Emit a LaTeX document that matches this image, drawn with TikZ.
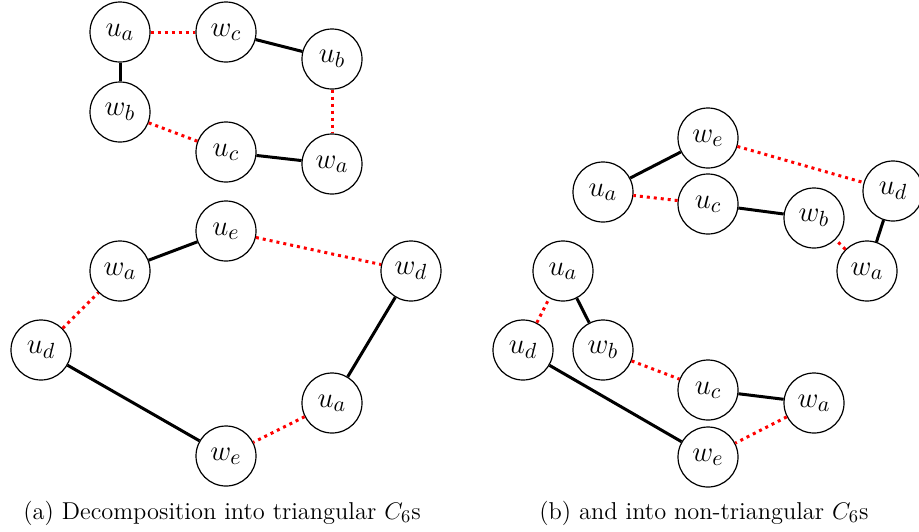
\documentclass[tikz,border=0pt]{standalone}
\begin{document}
\begin{tikzpicture}[x=0.5pt,y=-0.5pt,
  vtx/.style={circle,draw,line width=0.6pt,minimum size=30pt,inner sep=0pt,font=\fontsize{15}{18}\selectfont},
  solidedge/.style={line width=1.5pt},
  rededge/.style={red,line width=1.5pt,dash pattern=on 1.5pt off 2pt},
  captext/.style={anchor=base west,inner sep=0pt,font=\fontsize{12.2}{14}\selectfont}]
\useasboundingbox (0,0) rectangle (919,531);
% (a) top
\node[vtx] (a1ua) at (120,32) {$u_a$};
\node[vtx] (a1wc) at (226,32) {$w_c$};
\node[vtx] (a1ub) at (332,59) {$u_b$};
\node[vtx] (a1wb) at (120,112) {$w_b$};
\node[vtx] (a1uc) at (226,152) {$u_c$};
\node[vtx] (a1wa) at (332,164) {$w_a$};
\draw[rededge] (a1ua) -- (a1wc);
\draw[solidedge] (a1wc) -- (a1ub);
\draw[rededge] (a1ub) -- (a1wa);
\draw[solidedge] (a1wa) -- (a1uc);
\draw[rededge] (a1uc) -- (a1wb);
\draw[solidedge] (a1wb) -- (a1ua);
% (a) bottom
\node[vtx] (a2wa) at (120,271) {$w_a$};
\node[vtx] (a2ue) at (226,231) {$u_e$};
\node[vtx] (a2wd) at (411,271) {$w_d$};
\node[vtx] (a2ud) at (41,350) {$u_d$};
\node[vtx] (a2we) at (226,456) {$w_e$};
\node[vtx] (a2ua) at (332,403) {$u_a$};
\draw[solidedge] (a2wa) -- (a2ue);
\draw[rededge] (a2ue) -- (a2wd);
\draw[solidedge] (a2wd) -- (a2ua);
\draw[rededge] (a2ua) -- (a2we);
\draw[solidedge] (a2we) -- (a2ud);
\draw[rededge] (a2ud) -- (a2wa);
% (b) top
\node[vtx] (b1we) at (708,138) {$w_e$};
\node[vtx] (b1ua) at (603,192) {$u_a$};
\node[vtx] (b1uc) at (708,204) {$u_c$};
\node[vtx] (b1wb) at (814,218) {$w_b$};
\node[vtx] (b1ud) at (893,191) {$u_d$};
\node[vtx] (b1wa) at (867,271) {$w_a$};
\draw[solidedge] (b1ua) -- (b1we);
\draw[rededge] (b1we) -- (b1ud);
\draw[solidedge] (b1ud) -- (b1wa);
\draw[rededge] (b1wa) -- (b1wb);
\draw[solidedge] (b1wb) -- (b1uc);
\draw[rededge] (b1uc) -- (b1ua);
% (b) bottom
\node[vtx] (b2ua) at (563,271) {$u_a$};
\node[vtx] (b2ud) at (523,350) {$u_d$};
\node[vtx] (b2wb) at (603,350) {$w_b$};
\node[vtx] (b2uc) at (708,390) {$u_c$};
\node[vtx] (b2wa) at (814,403) {$w_a$};
\node[vtx] (b2we) at (708,457) {$w_e$};
\draw[solidedge] (b2ua) -- (b2wb);
\draw[rededge] (b2wb) -- (b2uc);
\draw[solidedge] (b2uc) -- (b2wa);
\draw[rededge] (b2wa) -- (b2we);
\draw[solidedge] (b2we) -- (b2ud);
\draw[rededge] (b2ud) -- (b2ua);
% captions
\node[captext] (capa) at (23,519) {(a) Decomposition into triangular $C_6$s};
\node[captext] (capb) at (539,519) {(b) and into non-triangular $C_6$s};
\end{tikzpicture}
\end{document}
